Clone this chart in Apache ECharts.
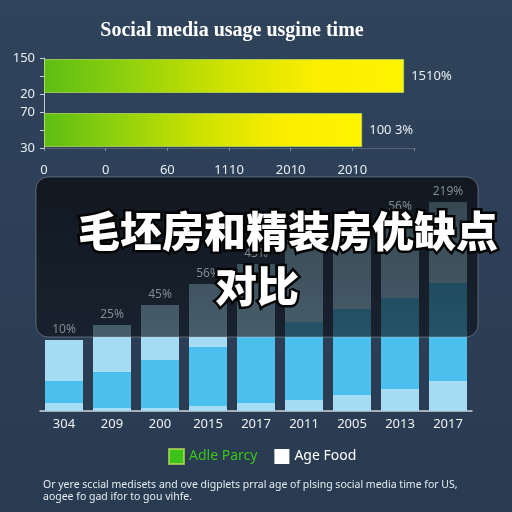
<!DOCTYPE html>
<html>
<head>
<meta charset="utf-8">
<script src="https://cdn.jsdelivr.net/npm/echarts@6/dist/echarts.min.js"></script>
<style>html,body{margin:0;padding:0;background:#2c3f56;}#c{width:512px;height:512px;}</style>
</head>
<body>
<div id="c"></div>
<script>
// ---- data ----
const topCats = ['150', '', '20', '70', '', '30'];
const topVals = [null, 5.84, null, null, 5.16, null];
const topBarLabels = ['', '1510%', '', '', '100 3%', ''];
const topXTicks = ['0', '0', '60', '1110', '2010', '2010'];

const years = ['304', '209', '200', '2015', '2017', '2011', '2005', '2013', '2017'];
const baseLight = [4, 1.5, 1.5, 2.5, 4, 5.5, 8, 11, 15];
const midBlue = [11, 18, 24, 29.5, 33, 39, 43, 45.5, 49];
const topLight = [20.5, 23.5, 27.5, 31.5, 36.5, 41, 42, 40.5, 40.5];
const pctLabels = ['10%', '25%', '45%', '56%', '45%', '', '', '56%', '219%'];
const labelAnchor = years.map(() => 0);

const titleText = 'Social media usage usgine time';
const overlayLine1 = '毛坯房和精装房优缺点';
const overlayLine2 = '对比';
const noteLine1 = 'Or yere sccial medisets and ove digplets prral age of plsing social media time for US,';
const noteLine2 = 'aogee fo gad ifor to gou vihfe.';

const chart = echarts.init(document.getElementById('c'), null, {renderer: 'canvas'});
const LIGHT = '#a6dbf4', BLUE = '#4cc0ec';

const option = {
  animation: false,
  backgroundColor: new echarts.graphic.LinearGradient(0, 0, 0, 1, [
    {offset: 0, color: '#2f435b'}, {offset: 1, color: '#293b51'}
  ]),
  textStyle: {fontFamily: '"Noto Sans", "Open Sans", sans-serif'},
  grid: [
    {left: 44, top: 58, width: 370, height: 90},
    {left: 40, top: 191, width: 432, height: 220}
  ],
  xAxis: [
    {
      gridIndex: 0, type: 'value', min: 0, max: 6, interval: 1,
      axisLine: {show: true, lineStyle: {color: 'rgba(190,205,220,0.25)'}},
      axisTick: {show: true, length: 3, lineStyle: {color: 'rgba(190,205,220,0.5)'}},
      splitLine: {show: false},
      axisLabel: {color: '#e8edf1', fontSize: 13, margin: 16,
        formatter: v => (topXTicks[v] !== undefined ? topXTicks[v] : '')}
    },
    {
      gridIndex: 1, type: 'category', data: years,
      axisLine: {show: true, lineStyle: {color: '#c8d3dc', width: 1.5}},
      axisTick: {show: false},
      axisLabel: {color: '#eef2f5', fontSize: 13, margin: 7}
    }
  ],
  yAxis: [
    {
      gridIndex: 0, type: 'category', data: topCats, inverse: true, boundaryGap: false,
      axisLine: {show: true, lineStyle: {color: '#c0ccd6'}},
      axisTick: {show: true, interval: 0, length: 4, lineStyle: {color: '#c0ccd6'}},
      axisLabel: {color: '#e8edf1', fontSize: 13, margin: 9, interval: 0}
    },
    {
      gridIndex: 1, type: 'value', min: 0, max: 110, show: false
    }
  ],
  legend: {
    left: 168, top: 448, padding: 0, itemWidth: 15, itemHeight: 15, itemGap: 17, icon: 'rect',
    textStyle: {fontSize: 14},
    data: [
      {name: 'Adle Parcy', itemStyle: {color: '#3cc41a'}, textStyle: {color: '#3cc41a'}},
      {name: 'Age Food', itemStyle: {color: '#ffffff'}, textStyle: {color: '#ffffff'}}
    ]
  },
  series: [
    {
      name: 'Adle Parcy', type: 'bar', xAxisIndex: 0, yAxisIndex: 0,
      data: topVals, barWidth: 34,
      itemStyle: {
        color: new echarts.graphic.LinearGradient(0, 0, 1, 0, [
          {offset: 0, color: '#5dbd14'}, {offset: 0.25, color: '#94d20c'},
          {offset: 0.5, color: '#cfe200'}, {offset: 0.75, color: '#fbee00'},
          {offset: 1, color: '#fff400'}
        ]),
        borderColor: 'rgba(190,225,90,0.7)', borderWidth: 1
      },
      label: {show: true, position: 'right', distance: 7, color: '#e8edf1', fontSize: 13,
        formatter: p => topBarLabels[p.dataIndex]}
    },
    {
      name: 'base', type: 'bar', xAxisIndex: 1, yAxisIndex: 1, stack: 's',
      data: baseLight, barWidth: 38, itemStyle: {color: LIGHT}
    },
    {
      name: 'mid', type: 'bar', xAxisIndex: 1, yAxisIndex: 1, stack: 's',
      data: midBlue, barWidth: 38, itemStyle: {color: BLUE}
    },
    {
      name: 'Age Food', type: 'bar', xAxisIndex: 1, yAxisIndex: 1, stack: 's',
      data: topLight, barWidth: 38, itemStyle: {color: LIGHT}
    },
    {
      name: 'lbl', type: 'bar', xAxisIndex: 1, yAxisIndex: 1, stack: 's', z: 20,
      data: labelAnchor, barWidth: 38, itemStyle: {color: 'rgba(0,0,0,0)'},
      label: {show: true, position: 'top', distance: 4, color: '#7f8b91', fontSize: 12,
        formatter: p => pctLabels[p.dataIndex]}
    }
  ],
  graphic: [
    {
      type: 'text', z: 30,
      style: {x: 232, y: 31, text: titleText, fill: '#ffffff', align: 'center', verticalAlign: 'middle',
        font: 'bold 20px "Liberation Serif", "DejaVu Serif", serif'}
    },
    {
      type: 'rect', z: 10,
      shape: {x: 36, y: 177, width: 442, height: 160, r: 12},
      style: {
        fill: new echarts.graphic.LinearGradient(0, 0, 0, 1, [
          {offset: 0, color: 'rgba(6,8,12,0.72)'}, {offset: 1, color: 'rgba(12,16,22,0.62)'}
        ]),
        stroke: 'rgba(200,210,220,0.35)', lineWidth: 1
      }
    },
    {
      type: 'text', z: 30,
      style: {x: 78, y: 231, text: overlayLine1, fill: '#ffffff', verticalAlign: 'middle',
        font: '900 42px "Noto Sans CJK SC", sans-serif',
        stroke: '#050505', lineWidth: 5, strokeFirst: true,
        shadowColor: 'rgba(0,0,0,0.9)', shadowOffsetX: 2, shadowOffsetY: 3, shadowBlur: 2}
    },
    {
      type: 'text', z: 30,
      style: {x: 215, y: 286, text: overlayLine2, fill: '#ffffff', verticalAlign: 'middle',
        font: '900 42px "Noto Sans CJK SC", sans-serif',
        stroke: '#050505', lineWidth: 5, strokeFirst: true,
        shadowColor: 'rgba(0,0,0,0.9)', shadowOffsetX: 2, shadowOffsetY: 3, shadowBlur: 2}
    },
    {
      type: 'text', z: 30,
      style: {x: 43, y: 485, text: noteLine1, fill: '#e6ecf0', verticalAlign: 'middle',
        font: '10.5px "Noto Sans", "Open Sans", sans-serif'}
    },
    {
      type: 'text', z: 30,
      style: {x: 43, y: 497, text: noteLine2, fill: '#e6ecf0', verticalAlign: 'middle',
        font: '10.5px "Noto Sans", "Open Sans", sans-serif'}
    }
  ]
};
chart.setOption(option);
</script>
</body>
</html>
